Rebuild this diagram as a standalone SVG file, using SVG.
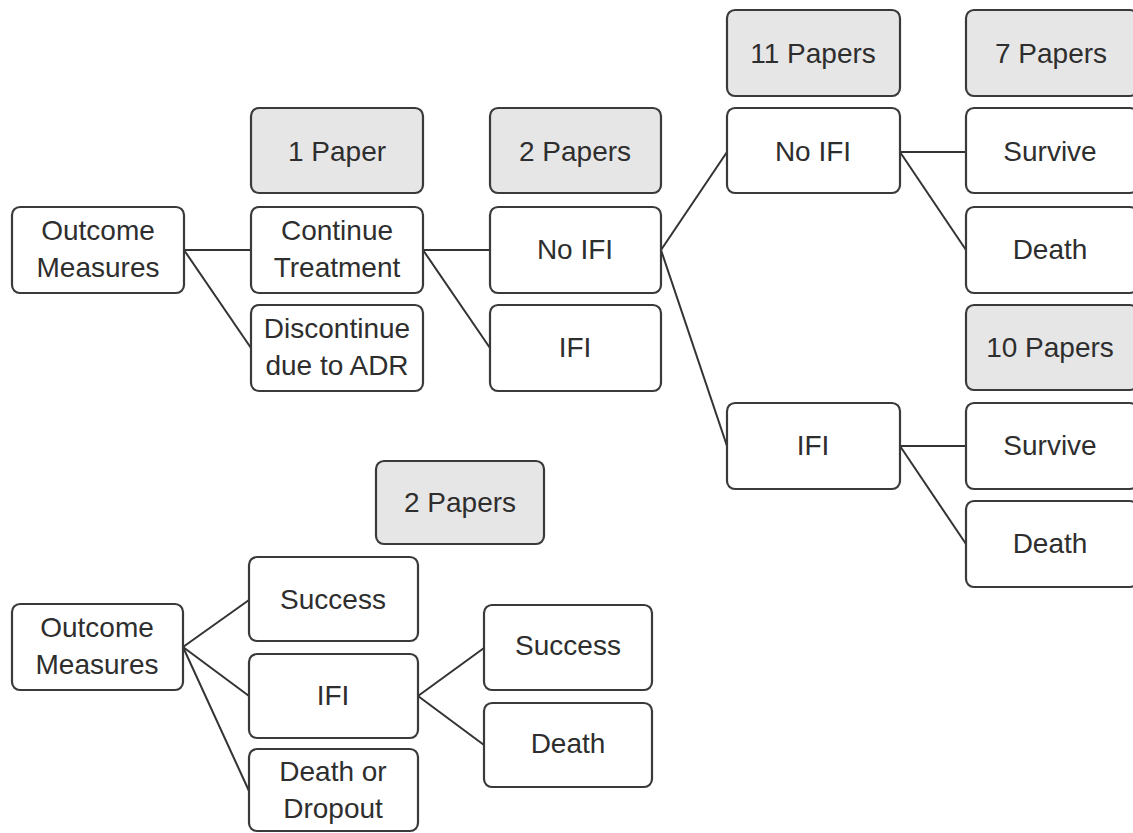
<svg xmlns="http://www.w3.org/2000/svg" width="1133" height="833" viewBox="0 0 1133 833">
<style>
.box{fill:#ffffff;stroke:#3a3a3a;stroke-width:2.2}
.gray{fill:#e7e6e6;stroke:#3a3a3a;stroke-width:2.2}
.t{font-family:"Liberation Sans",Arial,sans-serif;font-size:28px;fill:#2e2e2e;text-anchor:middle}
.c{stroke:#333333;stroke-width:2;fill:none}
</style>
<rect width="1133" height="833" fill="#ffffff"/>
<g id="connectors">
<line class="c" x1="184" y1="250" x2="251" y2="250"/>
<line class="c" x1="184" y1="250" x2="251" y2="348"/>
<line class="c" x1="423" y1="250" x2="490" y2="250"/>
<line class="c" x1="423" y1="250" x2="490" y2="348"/>
<line class="c" x1="661" y1="250" x2="727" y2="152"/>
<line class="c" x1="661" y1="250" x2="727" y2="446"/>
<line class="c" x1="900" y1="152" x2="966" y2="152"/>
<line class="c" x1="900" y1="152" x2="966" y2="250"/>
<line class="c" x1="900" y1="446" x2="966" y2="446"/>
<line class="c" x1="900" y1="446" x2="966" y2="544"/>
<line class="c" x1="183" y1="647" x2="249" y2="600"/>
<line class="c" x1="183" y1="647" x2="249" y2="696"/>
<line class="c" x1="183" y1="647" x2="249" y2="791"/>
<line class="c" x1="418" y1="696" x2="484" y2="648"/>
<line class="c" x1="418" y1="696" x2="484" y2="745"/>
</g>
<g id="n1"><rect class="box" x="12" y="207" width="172" height="86" rx="8"/><text class="t" x="98" y="240">Outcome</text><text class="t" x="98" y="277">Measures</text></g>
<g id="n2"><rect class="gray" x="251" y="108" width="172" height="85" rx="8"/><text class="t" x="337" y="161">1 Paper</text></g>
<g id="n3"><rect class="box" x="251" y="207" width="172" height="86" rx="8"/><text class="t" x="337" y="240">Continue</text><text class="t" x="337" y="277">Treatment</text></g>
<g id="n4"><rect class="box" x="251" y="305" width="172" height="86" rx="8"/><text class="t" x="337" y="338">Discontinue</text><text class="t" x="337" y="375">due to ADR</text></g>
<g id="n5"><rect class="gray" x="490" y="108" width="171" height="85" rx="8"/><text class="t" x="575" y="161">2 Papers</text></g>
<g id="n6"><rect class="box" x="490" y="207" width="171" height="86" rx="8"/><text class="t" x="575" y="259">No IFI</text></g>
<g id="n7"><rect class="box" x="490" y="305" width="171" height="86" rx="8"/><text class="t" x="575" y="357">IFI</text></g>
<g id="n8"><rect class="gray" x="727" y="10" width="173" height="86" rx="8"/><text class="t" x="813" y="63">11 Papers</text></g>
<g id="n9"><rect class="box" x="727" y="108" width="173" height="85" rx="8"/><text class="t" x="813" y="161">No IFI</text></g>
<g id="n10"><rect class="gray" x="966" y="10" width="172" height="86" rx="8"/><text class="t" x="1051" y="63">7 Papers</text></g>
<g id="n11"><rect class="box" x="966" y="108" width="172" height="85" rx="8"/><text class="t" x="1050" y="161">Survive</text></g>
<g id="n12"><rect class="box" x="966" y="207" width="172" height="86" rx="8"/><text class="t" x="1050" y="259">Death</text></g>
<g id="n13"><rect class="gray" x="966" y="305" width="172" height="85" rx="8"/><text class="t" x="1050" y="357">10 Papers</text></g>
<g id="n14"><rect class="box" x="727" y="403" width="173" height="86" rx="8"/><text class="t" x="813" y="455">IFI</text></g>
<g id="n15"><rect class="box" x="966" y="403" width="172" height="86" rx="8"/><text class="t" x="1050" y="455">Survive</text></g>
<g id="n16"><rect class="box" x="966" y="501" width="172" height="86" rx="8"/><text class="t" x="1050" y="553">Death</text></g>
<g id="b1"><rect class="gray" x="376" y="461" width="168" height="83" rx="8"/><text class="t" x="460" y="512">2 Papers</text></g>
<g id="b2"><rect class="box" x="12" y="604" width="171" height="86" rx="8"/><text class="t" x="97" y="637">Outcome</text><text class="t" x="97" y="674">Measures</text></g>
<g id="b3"><rect class="box" x="249" y="557" width="169" height="84" rx="8"/><text class="t" x="333" y="609">Success</text></g>
<g id="b4"><rect class="box" x="249" y="654" width="169" height="84" rx="8"/><text class="t" x="333" y="705">IFI</text></g>
<g id="b5"><rect class="box" x="249" y="749" width="169" height="82" rx="8"/><text class="t" x="333" y="781">Death or</text><text class="t" x="333" y="818">Dropout</text></g>
<g id="b6"><rect class="box" x="484" y="605" width="168" height="85" rx="8"/><text class="t" x="568" y="655">Success</text></g>
<g id="b7"><rect class="box" x="484" y="703" width="168" height="84" rx="8"/><text class="t" x="568" y="753">Death</text></g>
</svg>
